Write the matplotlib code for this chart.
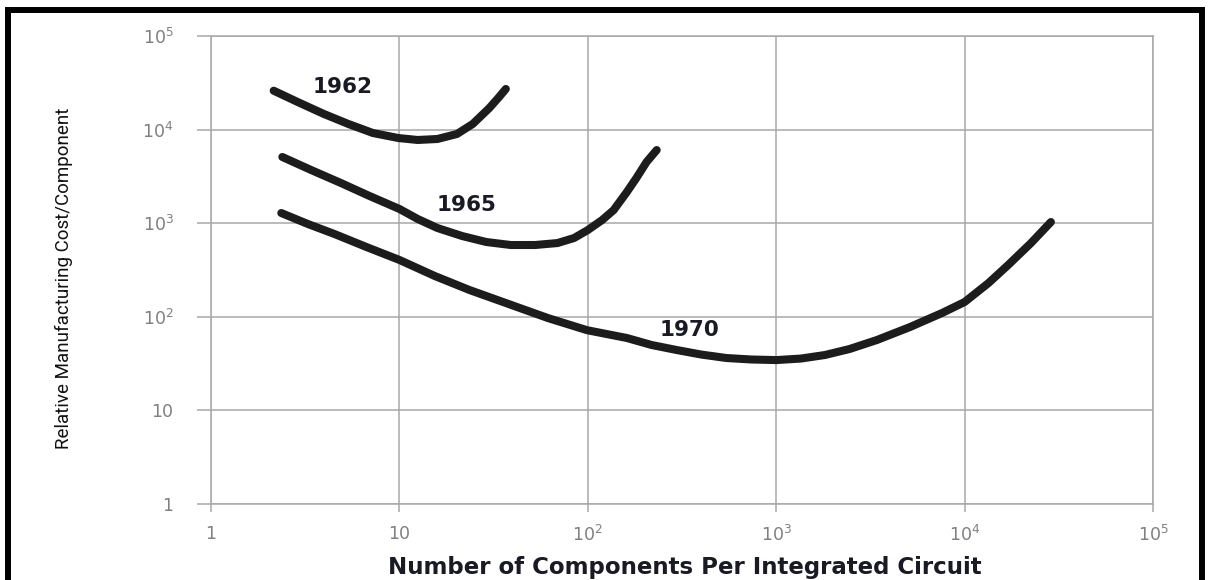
import matplotlib
matplotlib.use("Agg")
import matplotlib.pyplot as plt
from matplotlib.patches import Rectangle

# cost curves read as (components per circuit, relative cost per component)
x_1962 = [2.15, 2.91, 3.97, 5.35, 7.23, 9.87, 12.5, 15.9, 20.2, 24.5, 30, 33.8, 36.7]
y_1962 = [26050, 19550, 14700, 11500, 9200, 8130, 7750, 7940, 8980, 11500, 17000, 22300, 27200]

x_1965 = [2.39, 3.4, 4.89, 6.95, 10, 12.5, 15.9, 21.5, 28.9, 39, 52.5, 69, 84.5,
          100, 119, 137, 161, 181, 205, 232]
y_1965 = [5100, 3700, 2690, 1950, 1420, 1110, 889, 730, 630, 585, 585, 614, 695,
          846, 1080, 1380, 2150, 3040, 4510, 6050]

x_1970 = [2.36, 3.27, 4.52, 6.68, 10, 15.4, 23.6, 38, 61.4, 99, 161, 218, 296, 401,
          544, 738, 1000, 1350, 1815, 2450, 3420, 5130, 7600, 10000, 13400, 17000,
          22500, 28700]
y_1970 = [1285, 980, 767, 557, 405, 273, 193, 137, 97, 72, 59.4, 50, 44.2, 39.5,
          36.3, 35, 34.5, 35.8, 39.1, 45.3, 56.5, 77.8, 110, 144, 230, 357,
          614, 1030]

years = ["1962", "1965", "1970"]
label_x = [5.0, 22.7, 347]
label_y = [28500, 1560, 72]

tick_vals = [1, 10, 1e2, 1e3, 1e4, 1e5]
tick_text = ["1", "10", "10$^2$", "10$^3$", "10$^4$", "10$^5$"]

fig = plt.figure(figsize=(12.08, 5.8), dpi=100)
ax = fig.add_axes([0.1747, 0.131, 0.9545 - 0.1747, 0.9379 - 0.131])
ax.set_xscale("log")
ax.set_yscale("log")
ax.set_xlim(1, 1e5)
ax.set_ylim(1, 1e5)

grid_col = "#a8a8a8"
ax.set_xticks(tick_vals)
ax.set_yticks(tick_vals)
ax.set_xticklabels(tick_text)
ax.set_yticklabels(tick_text)
ax.minorticks_off()
ax.grid(True, color=grid_col, linewidth=1.1)
for s in ax.spines.values():
    s.set_color(grid_col)
    s.set_linewidth(1.1)
ax.tick_params(axis="x", length=6, width=1.1, color=grid_col, pad=9,
               labelsize=12.5, labelcolor="#808080")
ax.tick_params(axis="y", length=10, width=1.1, color=grid_col, pad=17,
               labelsize=12.5, labelcolor="#808080")
ax.set_axisbelow(True)

for xs, ys in [(x_1962, y_1962), (x_1965, y_1965), (x_1970, y_1970)]:
    ax.plot(xs, ys, color="#1c1c1c", linewidth=5.8,
            solid_capstyle="round", solid_joinstyle="round")

for yr, lx, ly in zip(years, label_x, label_y):
    ax.text(lx, ly, yr, ha="center", va="center", fontsize=15.5,
            fontweight="bold", color="#1a1a24")

fig.text(0.567, 0.022, "Number of Components Per Integrated Circuit",
         ha="center", va="center", fontsize=16.5, fontweight="bold",
         color="#1a1a24")
fig.text(0.053, 0.52, "Relative Manufacturing Cost/Component",
         ha="center", va="center", rotation=90, fontsize=13.5,
         family=["Roboto", "DejaVu Sans"], color="#111111")

# black frame round the whole chart, open at the bottom
fig.patches.append(Rectangle((0.0066, -0.05), 0.995 - 0.0066, 0.9819 + 0.05,
                             transform=fig.transFigure, fill=False,
                             edgecolor="black", linewidth=4.3))

fig.savefig("out.png", dpi=100, facecolor="white")
